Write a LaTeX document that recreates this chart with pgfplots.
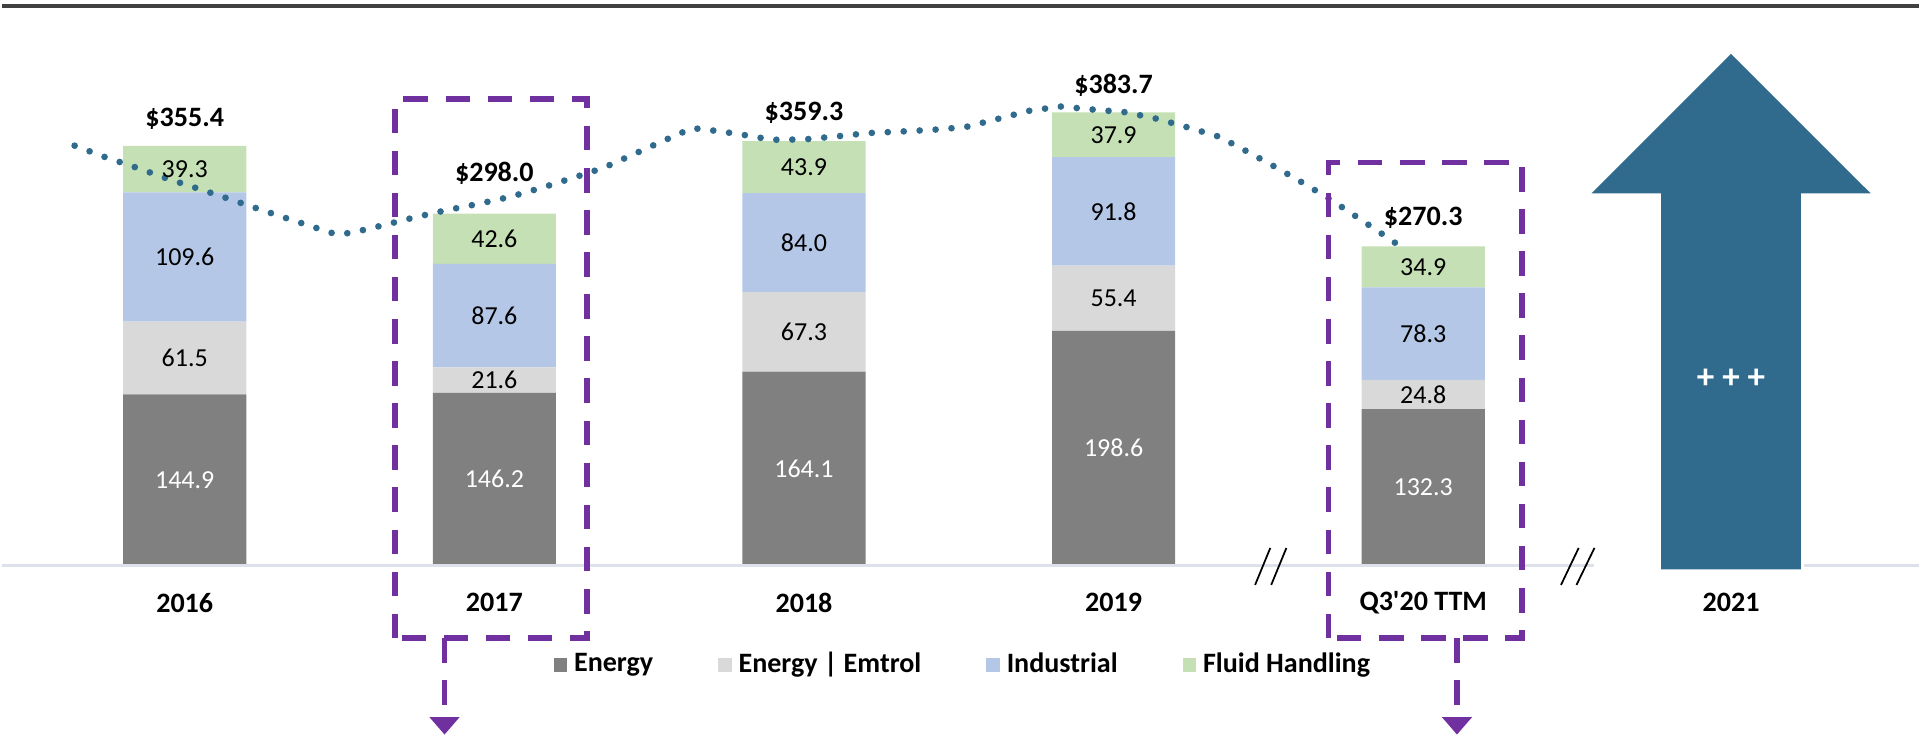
\documentclass[border=0pt]{standalone}
\usepackage{fontspec}
\setmainfont{Carlito}
\usepackage{pgfplots}
\usepackage{pgfplotstable}
\pgfplotsset{compat=1.18}
\usetikzlibrary{arrows.meta}

\definecolor{cEnergy}{HTML}{808080}
\definecolor{cEmtrol}{HTML}{D9D9D9}
\definecolor{cInd}{HTML}{B4C7E7}
\definecolor{cFluid}{HTML}{C5E0B4}
\definecolor{cBlue}{HTML}{306B8E}
\definecolor{cPurple}{HTML}{7030A0}
\definecolor{cBase}{HTML}{DCE1EA}

\newcommand\lab{\fontsize{7.4}{8.8}\selectfont}
\newcommand\blab{\fontsize{8}{9.6}\selectfont\bfseries}

% segment values per period (0=2016 ... 4=Q3'20 TTM)
\pgfplotstableread{
x energy emtrol industrial fluid
0 144.9 61.5 109.6 39.3
1 146.2 21.6 87.6 42.6
2 164.1 67.3 84.0 43.9
3 198.6 55.4 91.8 37.9
4 132.3 24.8 78.3 34.9
}\segs

\pgfplotsset{
 base/.style={scale only axis, width=19.21cm, height=7.42cm,
  xmin=-0.591, xmax=5.602, ymin=-148.4, ymax=478.9, clip=false, hide axis},
 lbl/.style={draw=none, mark=none, nodes near coords, point meta=explicit symbolic,
  every node near coord/.append style={anchor=center, inner sep=0pt}},
 purp/.style={cPurple, line width=1.6pt, dash pattern=on 7pt off 5pt},
}

\begin{document}
\begin{tikzpicture}
\begin{axis}[base, ybar stacked, bar width=0.3975,
 legend style={at={(0.5025,0.1019)}, anchor=center, draw=none, fill=none,
  legend columns=4, font=\blab,
  /tikz/every even column/.append style={column sep=0.58cm}},
 legend cell align=left,
 legend image code/.code={\fill[#1] (0cm,-0.065cm) rectangle (0.135cm,0.07cm);}]
 \addplot[fill=cEnergy, draw=none] table[x=x, y=energy] {\segs};
 \addlegendentry{Energy}
 \addplot[fill=cEmtrol, draw=none] table[x=x, y=emtrol] {\segs};
 \addlegendentry{Energy | Emtrol}
 \addplot[fill=cInd, draw=none] table[x=x, y=industrial] {\segs};
 \addlegendentry{Industrial}
 \addplot[fill=cFluid, draw=none] table[x=x, y=fluid] {\segs};
 \addlegendentry{Fluid Handling}
 \path (rel axis cs:0,0) rectangle (rel axis cs:1,1);
\end{axis}

\begin{axis}[base]
 % baseline and top rule
 \addplot[cBase, line width=0.7pt] coordinates {(-0.591,0) (4.55,0)};
 \addplot[cBase, line width=0.7pt] coordinates {(5.23,0) (5.602,0)};
 \addplot[black!75, line width=1pt] coordinates {(-0.591,474.0) (5.602,474.0)};

 % 2021 outlook arrow
 \addplot[fill=cBlue, draw=none] coordinates {(4.768,-3.4) (4.768,315.1) (4.543,315.1) (4.994,433.2)
  (5.445,315.1) (5.220,315.1) (5.220,-3.4) (4.768,-3.4)};

 % segment labels
 \addplot[lbl, every node near coord/.append style={font=\lab, text=white}] coordinates {
  (0,72.45)[144.9] (1,73.1)[146.2] (2,82.05)[164.1] (3,99.3)[198.6] (4,66.15)[132.3]};
 \addplot[lbl, every node near coord/.append style={font=\lab}] coordinates {
  (0,175.65)[61.5] (1,157.0)[21.6] (2,197.75)[67.3] (3,226.3)[55.4] (4,144.7)[24.8]
  (0,261.2)[109.6] (1,211.6)[87.6] (2,273.4)[84.0] (3,299.9)[91.8] (4,196.25)[78.3]
  (0,335.65)[39.3] (1,276.7)[42.6] (2,337.35)[43.9] (3,364.75)[37.9] (4,252.85)[34.9]};

 % totals
 \addplot[lbl, every node near coord/.append style={font=\blab}] coordinates {
  (0,378.0)[\$355.4] (1,332.5)[\$298.0] (2,383.1)[\$359.3] (3,407.0)[\$383.7] (4,294.3)[\$270.3]};

 % category labels
 \addplot[lbl, every node near coord/.append style={font=\blab}] coordinates {
  (0,-31.7)[2016] (1,-31.7)[2017] (2,-31.7)[2018] (3,-31.7)[2019]
  (4,-31.7)[Q3\textquotesingle 20 TTM] (4.994,-31.7)[2021]};

 \addplot[lbl, every node near coord/.append style={font=\fontsize{10}{12}\selectfont\bfseries, text=white}]
  coordinates {(4.994,157.7)[+ + +]};

 % axis break marks
 \addplot[black, line width=0.5pt] coordinates {(3.457,-16.5) (3.506,14.8)};
 \addplot[black, line width=0.5pt] coordinates {(3.509,-16.5) (3.558,14.8)};
 \addplot[black, line width=0.5pt] coordinates {(4.445,-16.5) (4.502,14.8)};
 \addplot[black, line width=0.5pt] coordinates {(4.495,-16.5) (4.553,14.8)};

 % dotted trend line
 \addplot[cBlue, line width=1.9pt, line cap=round, dash pattern=on 0pt off 4.55pt] coordinates {
  (-0.3556,355.5) (-0.2579,345.9) (-0.158,337.1) (-0.059,327.8) (0.040,319.4) (0.140,310.7)
  (0.2386,301.9) (0.3385,293.2) (0.4384,284.7) (0.488,280.5) (0.5384,281.7) (0.6406,288.1)
  (0.7427,294.8) (0.8437,300.8) (0.9478,306.2) (1.050,312.1) (1.151,319.7) (1.252,328.1)
  (1.351,336.6) (1.446,347.8) (1.541,359.1) (1.639,370.4) (1.688,369.0) (1.791,365.3)
  (1.896,360.5) (1.999,360.8) (2.102,363.3) (2.208,366.2) (2.313,367.5) (2.418,369.0)
  (2.522,371.3) (2.623,378.0) (2.726,385.0) (2.828,388.7) (2.934,386.1) (3.037,383.9)
  (3.140,378.3) (3.241,370.9) (3.341,363.1) (3.431,350.6) (3.526,336.9) (3.616,323.3)
  (3.706,309.0) (3.793,293.8) (3.880,278.5) (3.922,270.9)};

 % highlight boxes with downward arrows
 \addplot[purp] coordinates {(0.680,-61.7) (0.680,394.9) (1.300,394.9) (1.300,-61.7) (0.680,-61.7)};
 \addplot[purp] coordinates {(3.694,-61.7) (3.694,341.3) (4.318,341.3) (4.318,-61.7) (3.694,-61.7)};
 \addplot[purp, -{Triangle[width=8.3pt,length=5pt]}] coordinates {(0.839,-61.7) (0.839,-143.3)};
 \addplot[purp, -{Triangle[width=8.3pt,length=5pt]}] coordinates {(4.109,-61.7) (4.109,-143.3)};
\end{axis}
\end{tikzpicture}
\end{document}
